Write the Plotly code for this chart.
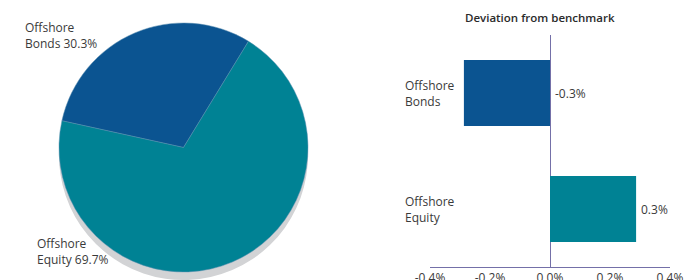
import plotly.graph_objects as go

# ---- data ----
pie_labels = ["Offshore Bonds", "Offshore Equity"]
pie_shares = [30.3, 69.7]
pie_text = ["Offshore<br>Bonds 30.3%", "Offshore<br>Equity 69.7%"]

bar_categories = ["Offshore Bonds", "Offshore Equity"]
bar_cat_text = ["Offshore<br>Bonds", "Offshore<br>Equity"]
bar_values = [-0.287, 0.287]
bar_labels = ["-0.3%", "0.3%"]
x_tickvals = [-0.4, -0.2, 0.0, 0.2, 0.4]
x_ticktext = ["-0.4%", "-0.2%", "0.0%", "0.2%", "0.4%"]
chart_title = "Deviation from benchmark"

# ---- styles ----
W, H = 685, 280
C_BONDS = "#0b5491"
C_EQUITY = "#008294"
C_SHADOW = "#d2d3d5"
C_AXIS = "#7470a8"
FONT = "Open Sans"
TXT = "#3a3a3a"

def px_x(v):
    return v / W

def px_y(v):
    return 1 - v / H

fig = go.Figure()

# pie shadow
fig.add_trace(go.Pie(
    values=pie_shares, labels=pie_labels, sort=False, direction="clockwise",
    rotation=282.4, marker=dict(colors=[C_SHADOW, C_SHADOW], line=dict(width=0)),
    textinfo="none", hoverinfo="skip", showlegend=False,
    domain=dict(x=[px_x(58), px_x(309)], y=[px_y(280), px_y(31)]),
))
# pie
fig.add_trace(go.Pie(
    values=pie_shares, labels=pie_labels, sort=False, direction="clockwise",
    rotation=282.4, marker=dict(colors=[C_BONDS, C_EQUITY], line=dict(width=0.5, color="#5a8fb0")),
    textinfo="none", showlegend=False,
    domain=dict(x=[px_x(58), px_x(309)], y=[px_y(272), px_y(23)]),
))

# bars
fig.add_trace(go.Bar(
    x=bar_values, y=bar_categories, orientation="h",
    marker=dict(color=[C_BONDS, C_EQUITY], line=dict(width=0)),
    width=0.57, showlegend=False, xaxis="x", yaxis="y",
))

annotations = []
# pie labels
annotations.append(dict(text=pie_text[0], x=px_x(23), y=px_y(35), xref="paper", yref="paper",
                        xanchor="left", yanchor="middle", align="left", showarrow=False,
                        font=dict(family=FONT, size=12, color=TXT)))
annotations.append(dict(text=pie_text[1], x=px_x(35), y=px_y(251), xref="paper", yref="paper",
                        xanchor="left", yanchor="middle", align="left", showarrow=False,
                        font=dict(family=FONT, size=12, color=TXT)))
# bar category labels
for cat, txt in zip(bar_categories, bar_cat_text):
    annotations.append(dict(text=txt, x=px_x(403), y=cat, xref="paper", yref="y",
                            xanchor="left", yanchor="middle", align="left", showarrow=False,
                            font=dict(family=FONT, size=12, color=TXT)))
# bar value labels
for cat, v, lab in zip(bar_categories, bar_values, bar_labels):
    annotations.append(dict(text=lab, x=max(v, 0), y=cat, xref="x", yref="y",
                            xanchor="left", yanchor="middle", xshift=3, showarrow=False,
                            font=dict(family=FONT, size=12, color=TXT)))
# title
annotations.append(dict(text=chart_title, x=px_x(540), y=px_y(17), xref="paper", yref="paper",
                        xanchor="center", yanchor="middle", showarrow=False,
                        font=dict(family=FONT, size=11.5, color="#2a2a2a", weight=600)))

fig.update_layout(
    template="none",
    width=W, height=H,
    margin=dict(l=0, r=0, t=0, b=0, pad=0),
    paper_bgcolor="white", plot_bgcolor="white",
    font=dict(family=FONT, size=12, color=TXT),
    xaxis=dict(domain=[px_x(430), px_x(670)], range=[-0.4, 0.4], automargin=False,
               tickvals=x_tickvals, ticktext=x_ticktext, showgrid=False,
               zeroline=True, zerolinecolor=C_AXIS, zerolinewidth=1,
               showline=True, linecolor=C_AXIS, linewidth=1, ticks="",
               tickfont=dict(family=FONT, size=12, color=TXT), fixedrange=True),
    yaxis=dict(domain=[px_y(267), px_y(35)], categoryorder="array", automargin=False,
               categoryarray=list(reversed(bar_categories)),
               showticklabels=False, showgrid=False, zeroline=False, showline=False,
               ticks="", fixedrange=True),
    bargap=0.43,
    annotations=annotations,
)

fig.write_html("out.html", config={"displayModeBar": False},
               post_script="document.body.style.margin='0px';")
